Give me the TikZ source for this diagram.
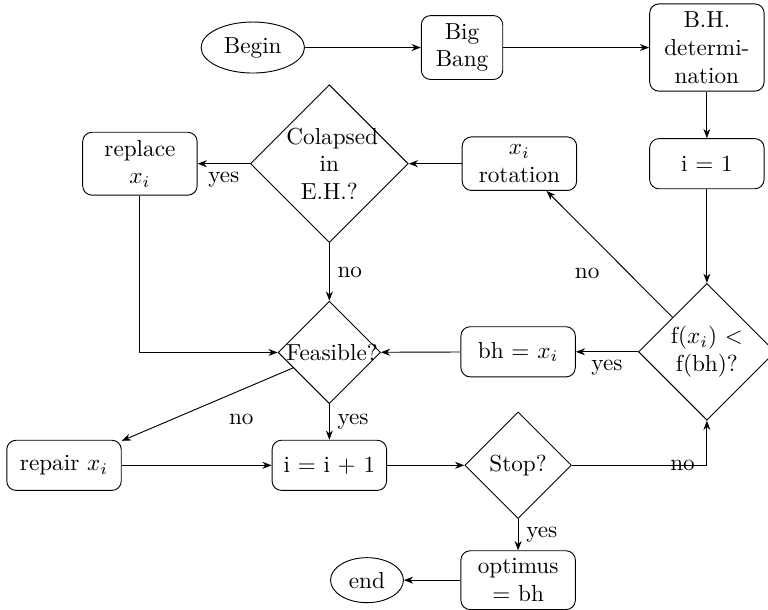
\documentclass[tikz,border=0pt]{standalone}
\usepackage{amsmath}
\usetikzlibrary{shapes.geometric, arrows.meta, positioning}
\begin{document}
\begin{tikzpicture}[
    on grid,
    box/.style={rectangle, rounded corners, draw, text width=1.5cm,
                align=center, minimum height=0.76cm},
    dec/.style={diamond, draw, text width=1.3cm, align=center, inner sep=0pt},
    term/.style={ellipse, draw},
    arr/.style={-{Stealth[length=4pt, width=3pt]}}
  ]
  \useasboundingbox (0,0) rectangle (11.636,-9.242);

  \node[term] (begin) at (3.83,-0.72) {Begin};
  \node[box, text width=1cm, right=3.17cm of begin] (bang) {Big Bang};
  \node[box, right=3.71cm of bang] (bhdet) {B.H. determination};
  \node[box, below=1.76cm of bhdet] (ione) {i = 1};
  \node[dec, below=2.85cm of ione] (fcmp) {f($x_i$) $<$ f(bh)?};
  \node[box, left=2.84cm of ione] (rot) {$x_i$\\ rotation};
  \node[dec, left=2.88cm of rot] (colap) {Colapsed\\ in\\ E.H.?};
  \node[box, left=2.87cm of colap] (repl) {replace\\ $x_i$};
  \node[dec, below=2.86cm of colap] (feas) {Feasible?};
  \node[box, left=2.86cm of fcmp] (bhx) {bh = $x_i$};
  \node[box, below=1.71cm of feas] (inc) {i = i + 1};
  \node[dec, right=2.86cm of inc] (stop) {Stop?};
  \node[box, left=4.02cm of inc] (repair) {repair $x_i$};
  \node[box, below=1.74cm of stop] (opt) {optimus = bh};
  \node[term, left=2.29cm of opt] (endn) {end};

  \draw[arr] (begin) -- (bang);
  \draw[arr] (bang) -- (bhdet);
  \draw[arr] (bhdet) -- (ione);
  \draw[arr] (ione) -- (fcmp);
  \draw[arr] (fcmp) -- node[pos=0.35, left=9pt] {no} (rot);
  \draw[arr] (rot) -- (colap);
  \draw[arr] (colap) -- node[midway, below] {yes} (repl);
  \draw[arr] (colap) -- node[midway, right] {no} (feas);
  \draw[arr] (repl) |- (feas);
  \draw[arr] (fcmp) -- node[midway, below] {yes} (bhx);
  \draw[arr] (bhx) -- (feas);
  \draw[arr] (feas) -- node[pos=0.45, below right=3pt] {no} (repair);
  \draw[arr] (feas) -- node[midway, right] {yes} (inc);
  \draw[arr] (repair) -- (inc);
  \draw[arr] (inc) -- (stop);
  \draw[arr] (stop) -| node[pos=0.41] {no} (fcmp);
  \draw[arr] (stop) -- node[midway, right] {yes} (opt);
  \draw[arr] (opt) -- (endn);
\end{tikzpicture}
\end{document}
